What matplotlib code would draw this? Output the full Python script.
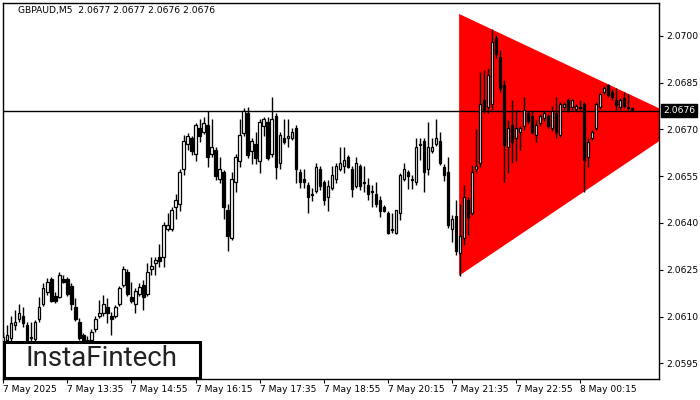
import numpy as np
import matplotlib
matplotlib.use("Agg")
import matplotlib.pyplot as plt
from matplotlib.patches import Polygon, Rectangle
import matplotlib.transforms as mtransforms

# GBPAUD M5 candles (open, high, low, close)
opens = [2.06008, 2.06024, 2.06031, 2.06072, 2.06092, 2.06101, 2.06072, 2.06031, 2.06027, 2.06092,
         2.06140, 2.06178, 2.06220, 2.06165, 2.06162, 2.06220, 2.06220, 2.06197, 2.06130, 2.06082,
         2.06040, 2.05999, 2.06024, 2.06060, 2.06101, 2.06111, 2.06130, 2.06101, 2.06101, 2.06140,
         2.06201, 2.06242, 2.06162, 2.06140, 2.06172, 2.06201, 2.06172, 2.06252, 2.06271, 2.06290,
         2.06290, 2.06380, 2.06380, 2.06451, 2.06460, 2.06572, 2.06653, 2.06672, 2.06620, 2.06704,
         2.06691, 2.06713, 2.06620, 2.06633, 2.06540, 2.06563, 2.06441, 2.06351, 2.06531, 2.06598,
         2.06688, 2.06752, 2.06630, 2.06653, 2.06598, 2.06710, 2.06723, 2.06620, 2.06742, 2.06592,
         2.06672, 2.06672, 2.06672, 2.06704, 2.06563, 2.06540, 2.06521, 2.06492, 2.06502, 2.06572,
         2.06531, 2.06483, 2.06511, 2.06540, 2.06572, 2.06582, 2.06611, 2.06572, 2.06518, 2.06582,
         2.06531, 2.06521, 2.06502, 2.06492, 2.06473, 2.06451, 2.06431, 2.06380, 2.06367, 2.06431,
         2.06540, 2.06563, 2.06540, 2.06531, 2.06651, 2.06662, 2.06572, 2.06630, 2.06653, 2.06662,
         2.06579, 2.06563, 2.06380, 2.06422, 2.06303, 2.06351, 2.06473, 2.06431, 2.06572, 2.06592,
         2.06794, 2.06771, 2.06781, 2.06992, 2.06931, 2.06842, 2.06643, 2.06713, 2.06672, 2.06691,
         2.06710, 2.06752, 2.06742, 2.06681, 2.06720, 2.06736, 2.06742, 2.06704, 2.06752, 2.06681,
         2.06771, 2.06794, 2.06771, 2.06765, 2.06771, 2.06781, 2.06611, 2.06672, 2.06704, 2.06771,
         2.06819, 2.06842, 2.06819, 2.06794, 2.06771, 2.06800, 2.06771, 2.06770]
highs = [2.06050, 2.06072, 2.06101, 2.06120, 2.06140, 2.06130, 2.06082, 2.06082, 2.06088, 2.06162,
         2.06207, 2.06223, 2.06226, 2.06178, 2.06242, 2.06233, 2.06226, 2.06207, 2.06159, 2.06095,
         2.06047, 2.06037, 2.06060, 2.06101, 2.06153, 2.06169, 2.06159, 2.06114, 2.06137, 2.06197,
         2.06262, 2.06252, 2.06210, 2.06191, 2.06207, 2.06217, 2.06271, 2.06290, 2.06290, 2.06332,
         2.06403, 2.06431, 2.06451, 2.06492, 2.06572, 2.06681, 2.06688, 2.06678, 2.06720, 2.06733,
         2.06739, 2.06758, 2.06733, 2.06643, 2.06611, 2.06569, 2.06460, 2.06563, 2.06620, 2.06733,
         2.06768, 2.06771, 2.06672, 2.06691, 2.06733, 2.06739, 2.06739, 2.06803, 2.06752, 2.06691,
         2.06733, 2.06733, 2.06704, 2.06713, 2.06572, 2.06572, 2.06531, 2.06511, 2.06592, 2.06582,
         2.06537, 2.06537, 2.06582, 2.06592, 2.06643, 2.06643, 2.06617, 2.06582, 2.06611, 2.06588,
         2.06582, 2.06543, 2.06521, 2.06531, 2.06486, 2.06457, 2.06438, 2.06431, 2.06441, 2.06559,
         2.06592, 2.06569, 2.06553, 2.06672, 2.06672, 2.06672, 2.06723, 2.06672, 2.06733, 2.06691,
         2.06588, 2.06611, 2.06425, 2.06473, 2.06460, 2.06521, 2.06483, 2.06585, 2.06701, 2.06883,
         2.06890, 2.06896, 2.07021, 2.07002, 2.06954, 2.06858, 2.06729, 2.06794, 2.06761, 2.06710,
         2.06803, 2.06758, 2.06761, 2.06729, 2.06749, 2.06758, 2.06749, 2.06774, 2.06803, 2.06787,
         2.06787, 2.06800, 2.06797, 2.06781, 2.06794, 2.06787, 2.06672, 2.06697, 2.06787, 2.06816,
         2.06838, 2.06845, 2.06829, 2.06832, 2.06800, 2.06819, 2.06813, 2.06770]
lows = [2.05992, 2.06008, 2.06018, 2.06056, 2.06082, 2.06066, 2.06008, 2.05999, 2.06018, 2.06082,
        2.06133, 2.06169, 2.06146, 2.06143, 2.06159, 2.06207, 2.06165, 2.06120, 2.06085, 2.06024,
        2.06008, 2.05986, 2.06012, 2.06050, 2.06095, 2.06101, 2.06079, 2.06040, 2.06095, 2.06133,
        2.06194, 2.06165, 2.06143, 2.06111, 2.06165, 2.06120, 2.06165, 2.06233, 2.06233, 2.06258,
        2.06258, 2.06374, 2.06374, 2.06412, 2.06438, 2.06553, 2.06633, 2.06617, 2.06598, 2.06659,
        2.06685, 2.06579, 2.06611, 2.06537, 2.06527, 2.06412, 2.06310, 2.06345, 2.06499, 2.06579,
        2.06678, 2.06608, 2.06588, 2.06588, 2.06559, 2.06678, 2.06601, 2.06611, 2.06540, 2.06572,
        2.06653, 2.06643, 2.06665, 2.06527, 2.06511, 2.06511, 2.06431, 2.06470, 2.06495, 2.06505,
        2.06457, 2.06438, 2.06505, 2.06527, 2.06566, 2.06559, 2.06576, 2.06483, 2.06511, 2.06505,
        2.06499, 2.06473, 2.06451, 2.06451, 2.06419, 2.06435, 2.06364, 2.06367, 2.06364, 2.06409,
        2.06534, 2.06508, 2.06508, 2.06521, 2.06601, 2.06499, 2.06553, 2.06624, 2.06646, 2.06585,
        2.06534, 2.06383, 2.06338, 2.06297, 2.06229, 2.06329, 2.06361, 2.06425, 2.06563, 2.06579,
        2.06752, 2.06752, 2.06761, 2.06928, 2.06819, 2.06531, 2.06559, 2.06592, 2.06598, 2.06633,
        2.06697, 2.06717, 2.06685, 2.06659, 2.06710, 2.06726, 2.06704, 2.06694, 2.06672, 2.06675,
        2.06761, 2.06755, 2.06761, 2.06758, 2.06761, 2.06499, 2.06579, 2.06665, 2.06697, 2.06765,
        2.06813, 2.06803, 2.06794, 2.06761, 2.06761, 2.06768, 2.06761, 2.06760]
closes = [2.06034, 2.06040, 2.06079, 2.06082, 2.06111, 2.06079, 2.06024, 2.06034, 2.06082, 2.06130,
          2.06191, 2.06210, 2.06149, 2.06149, 2.06233, 2.06210, 2.06172, 2.06140, 2.06092, 2.06031,
          2.06021, 2.06024, 2.06050, 2.06092, 2.06111, 2.06140, 2.06111, 2.06092, 2.06130, 2.06191,
          2.06252, 2.06172, 2.06149, 2.06181, 2.06194, 2.06162, 2.06242, 2.06262, 2.06281, 2.06278,
          2.06393, 2.06393, 2.06441, 2.06473, 2.06563, 2.06662, 2.06678, 2.06630, 2.06713, 2.06678,
          2.06720, 2.06611, 2.06643, 2.06550, 2.06572, 2.06451, 2.06358, 2.06540, 2.06611, 2.06681,
          2.06758, 2.06617, 2.06662, 2.06608, 2.06723, 2.06733, 2.06608, 2.06733, 2.06579, 2.06681,
          2.06659, 2.06678, 2.06691, 2.06572, 2.06531, 2.06531, 2.06483, 2.06491, 2.06579, 2.06518,
          2.06473, 2.06518, 2.06553, 2.06582, 2.06592, 2.06601, 2.06579, 2.06508, 2.06592, 2.06518,
          2.06529, 2.06492, 2.06500, 2.06460, 2.06438, 2.06438, 2.06367, 2.06379, 2.06441, 2.06553,
          2.06572, 2.06550, 2.06539, 2.06643, 2.06653, 2.06563, 2.06643, 2.06643, 2.06672, 2.06592,
          2.06553, 2.06393, 2.06412, 2.06310, 2.06358, 2.06483, 2.06419, 2.06563, 2.06582, 2.06781,
          2.06761, 2.06874, 2.06979, 2.06941, 2.06832, 2.06649, 2.06704, 2.06659, 2.06704, 2.06704,
          2.06761, 2.06726, 2.06691, 2.06713, 2.06742, 2.06752, 2.06710, 2.06758, 2.06691, 2.06781,
          2.06781, 2.06761, 2.06794, 2.06774, 2.06770, 2.06601, 2.06659, 2.06691, 2.06781, 2.06813,
          2.06832, 2.06810, 2.06803, 2.06778, 2.06794, 2.06774, 2.06770, 2.06760]

tick_pos = [0, 16, 32, 48, 64, 80, 96, 112, 128, 144]
tick_labels = ["7 May 2025", "7 May 13:35", "7 May 14:55", "7 May 16:15", "7 May 17:35",
               "7 May 18:55", "7 May 20:15", "7 May 21:35", "7 May 22:55", "8 May 00:15"]
price_ticks = [2.0595, 2.0610, 2.0625, 2.0640, 2.0655, 2.0670, 2.0685, 2.0700]

# symmetrical triangle pattern (left edge index, top, bottom, apex)
tri_x = [113.8, 113.8, 170.9]
tri_y = [2.07070, 2.06231, 2.06724]
last_price = 2.0676
header = "GBPAUD,M5  2.0677 2.0677 2.0676 2.0676"

plt.rcParams['font.family'] = ['DejaVu Sans']

fig = plt.figure(figsize=(7, 4), dpi=100)
ax = fig.add_axes([3 / 700, 21 / 400, 656 / 700, 376 / 400])

ax.add_patch(Polygon(list(zip(tri_x, tri_y)), closed=True, facecolor="#ff0000",
                     edgecolor="none", zorder=1))

ax.axhline(last_price, color="black", lw=1.0, zorder=2)

x = np.arange(len(opens))
o = np.array(opens)
c = np.array(closes)
ax.vlines(x, lows, highs, color="black", lw=1.0, zorder=3)
up = c >= o
ax.bar(x[up], c[up] - o[up], bottom=o[up], width=0.58, color="white",
       edgecolor="black", linewidth=0.9, zorder=4)
ax.bar(x[~up], c[~up] - o[~up], bottom=o[~up], width=0.58, color="black",
       edgecolor="black", linewidth=0.9, zorder=4)

ax.set_xlim(-0.07, 163.7)
ax.set_ylim(2.05900, 2.07105)

ax.set_xticks(tick_pos)
ax.set_xticklabels(tick_labels, fontsize=6.6)
for lab in ax.get_xticklabels():
    lab.set_horizontalalignment("left")
ax.tick_params(axis="x", length=3, width=0.8, pad=1.5)

ax.yaxis.tick_right()
ax.set_yticks(price_ticks)
ax.set_yticklabels(["%.4f" % p for p in price_ticks], fontsize=6.6)
ax.tick_params(axis="y", length=3, width=0.8, pad=2)

for sp in ax.spines.values():
    sp.set_linewidth(1.0)

# last price marker on the right scale
trans = mtransforms.blended_transform_factory(ax.transAxes, ax.transData)
ax.text(1.006, last_price, "%.4f" % last_price, transform=trans, fontsize=6.6,
        color="white", va="center", ha="left",
        bbox=dict(boxstyle="square,pad=0.25", facecolor="black", edgecolor="black"),
        clip_on=False, zorder=10)

fig.text(18 / 700, 1 - 11 / 400, header, fontsize=6.6, va="center", ha="left")

# logo box
fig.patches.append(Rectangle((4 / 700, 22.5 / 400), 196 / 700, 35.5 / 400,
                             transform=fig.transFigure, facecolor="white",
                             edgecolor="black", linewidth=2.2, zorder=20))
fig.text(102 / 700, 1 - 359 / 400, "InstaFintech", fontsize=20, family="Roboto",
         weight="normal", color="#222222", ha="center", va="center", zorder=21)

fig.savefig("out.png", dpi=100)
